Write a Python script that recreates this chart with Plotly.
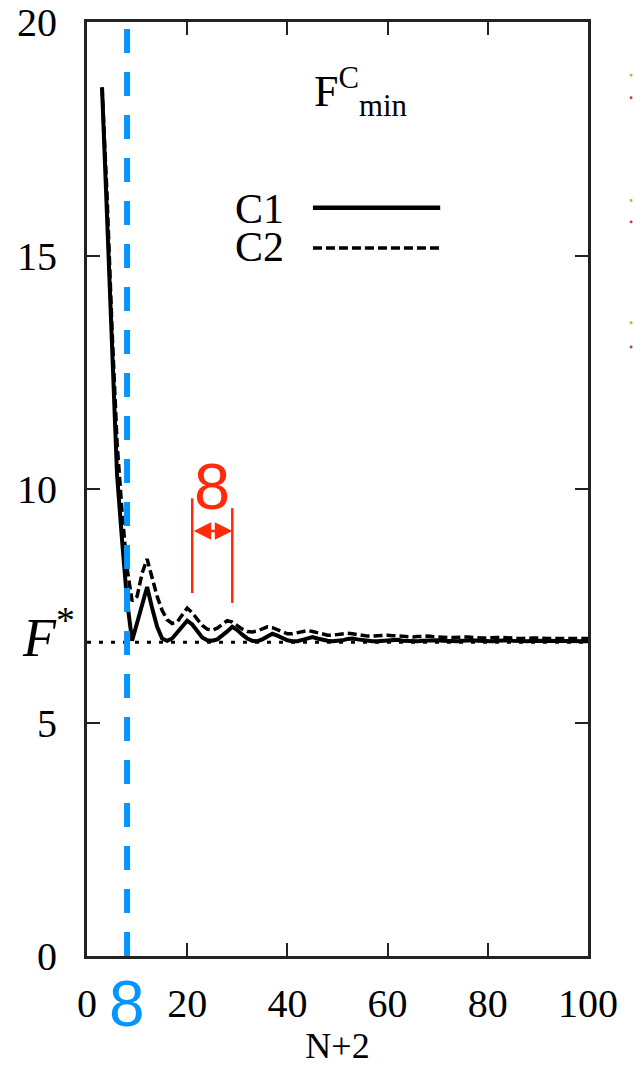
import plotly.graph_objects as go

# N+2 values and the minimum free energy for the two configurations
n_plus_2 = list(range(3, 101))

f_c1 = [
    18.6, 15.9, 12.7, 10.3, 8.9, 7.6, 6.75, 7.15, 7.55, 7.9,      # 3-12
    7.45, 7.05, 6.8, 6.75, 6.8, 6.92, 7.05, 7.18, 7.1, 6.95,      # 13-22
    6.82, 6.76, 6.75, 6.78, 6.86, 6.95, 7.05, 6.98, 6.88, 6.8,    # 23-32
    6.75, 6.74, 6.78, 6.85, 6.9, 6.86, 6.8, 6.76, 6.74, 6.74,     # 33-42
    6.77, 6.81, 6.83, 6.8, 6.77, 6.75, 6.74, 6.74, 6.76, 6.79,    # 43-52
    6.8, 6.78, 6.76, 6.75, 6.74, 6.74, 6.75, 6.77, 6.78, 6.77,    # 53-62
    6.75, 6.74, 6.74, 6.74, 6.75, 6.76, 6.77, 6.76, 6.75, 6.74,   # 63-72
    6.74, 6.74, 6.75, 6.76, 6.76, 6.75, 6.74, 6.74, 6.74, 6.75,   # 73-82
    6.76, 6.76, 6.75, 6.74, 6.74, 6.74, 6.75, 6.75, 6.75, 6.74,   # 83-92
    6.74, 6.74, 6.74, 6.75, 6.75, 6.74, 6.74, 6.74,               # 93-100
]

f_c2 = [
    18.6, 16.3, 13.4, 11.0, 9.5, 8.3, 7.6, 7.7, 8.2, 8.5,         # 3-12
    8.1, 7.7, 7.4, 7.2, 7.12, 7.15, 7.3, 7.45, 7.35, 7.2,         # 13-22
    7.08, 7.0, 6.98, 7.02, 7.1, 7.18, 7.15, 7.07, 7.0, 6.95,      # 23-32
    6.94, 6.96, 7.0, 7.05, 7.03, 6.98, 6.93, 6.9, 6.9, 6.92,      # 33-42
    6.95, 6.97, 6.95, 6.92, 6.89, 6.87, 6.87, 6.88, 6.9, 6.91,    # 43-52
    6.9, 6.88, 6.86, 6.85, 6.85, 6.86, 6.87, 6.87, 6.86, 6.85,    # 53-62
    6.84, 6.83, 6.83, 6.84, 6.85, 6.85, 6.84, 6.83, 6.82, 6.82,   # 63-72
    6.82, 6.83, 6.83, 6.83, 6.82, 6.81, 6.81, 6.81, 6.82, 6.82,   # 73-82
    6.82, 6.81, 6.8, 6.8, 6.8, 6.81, 6.81, 6.81, 6.8, 6.8,        # 83-92
    6.8, 6.8, 6.8, 6.8, 6.8, 6.8, 6.8, 6.8,                       # 93-100
]

F_STAR = 6.72          # asymptotic value
FIRST_MIN_N = 8        # marked first minimum
PERIOD_START = 21      # start of the marked oscillation period
PERIOD = 8             # oscillation period

x_ticks = [0, 20, 40, 60, 80, 100]
y_ticks = [0, 5, 10, 15, 20]

SERIF = "Liberation Serif"
SANS = "Liberation Sans"
BLUE = "#0496FF"
RED = "#FF2A0A"
AXIS = "#222222"

fig = go.Figure()

fig.add_trace(go.Scatter(
    x=[x_ticks[0], x_ticks[-1]], y=[F_STAR, F_STAR], mode="lines",
    line=dict(color="black", width=3, dash="4px,8px"), hoverinfo="skip",
))
fig.add_trace(go.Scatter(
    x=n_plus_2, y=f_c2, mode="lines", name="C2",
    line=dict(color="black", width=3.5, dash="9px,4px"),
))
fig.add_trace(go.Scatter(
    x=n_plus_2, y=f_c1, mode="lines", name="C1",
    line=dict(color="black", width=4),
))

# vertical marker at the first minimum
fig.add_shape(type="line", xref="x", yref="y",
              x0=FIRST_MIN_N, x1=FIRST_MIN_N, y0=y_ticks[0], y1=y_ticks[-1],
              line=dict(color=BLUE, width=6, dash="24px,19px"))
fig.add_annotation(x=FIRST_MIN_N, xref="x", y=-0.051, yref="paper",
                   text=str(FIRST_MIN_N), showarrow=False,
                   font=dict(family=SANS, size=64, color=BLUE),
                   xanchor="center", yanchor="middle")

# oscillation period bracket
p0, p1 = PERIOD_START, PERIOD_START + PERIOD
fig.add_shape(type="line", xref="x", yref="y", x0=p0, x1=p0, y0=7.77, y1=9.8,
              line=dict(color=RED, width=2.5))
fig.add_shape(type="line", xref="x", yref="y", x0=p1, x1=p1, y0=7.56, y1=9.59,
              line=dict(color=RED, width=2.5))
fig.add_annotation(x=p1, y=9.1, ax=p0, ay=9.1, xref="x", yref="y",
                   axref="x", ayref="y", text="", showarrow=True,
                   arrowhead=2, arrowside="end+start", arrowsize=1.4,
                   arrowwidth=2.5, arrowcolor=RED, standoff=0, startstandoff=0)
fig.add_annotation(x=(p0 + p1) / 2, y=10.05, xref="x", yref="y",
                   text=str(PERIOD), showarrow=False,
                   font=dict(family=SANS, size=65, color=RED),
                   xanchor="center", yanchor="middle")

# F* label
fig.add_annotation(x=-0.02, xref="paper", y=F_STAR, yref="y",
                   text="<i>F</i><sup>*</sup>", showarrow=False,
                   font=dict(family=SERIF, size=54, color="black"),
                   xanchor="right", yanchor="middle", yshift=9)

# legend
fig.add_annotation(x=0.449, y=0.925, xref="paper", yref="paper",
                   text="F<sup>C</sup><sub>min</sub>", showarrow=False,
                   font=dict(family=SERIF, size=44, color="black"),
                   xanchor="left", yanchor="middle")
fig.add_annotation(x=0.397, y=0.800, xref="paper", yref="paper",
                   text="C1", showarrow=False,
                   font=dict(family=SERIF, size=42, color="black"),
                   xanchor="right", yanchor="middle")
fig.add_annotation(x=0.397, y=0.759, xref="paper", yref="paper",
                   text="C2", showarrow=False,
                   font=dict(family=SERIF, size=42, color="black"),
                   xanchor="right", yanchor="middle")
fig.add_shape(type="line", xref="paper", yref="paper",
              x0=0.451, x1=0.705, y0=0.801, y1=0.801,
              line=dict(color="black", width=4.5))
fig.add_shape(type="line", xref="paper", yref="paper",
              x0=0.451, x1=0.705, y0=0.758, y1=0.758,
              line=dict(color="black", width=3.5, dash="9px,4px"))

# faint marks from a neighbouring panel at the right edge
for yy, col in [(0.943, "#d9a05a"), (0.919, "#a0503a"),
                (0.809, "#d9a05a"), (0.786, "#a0503a"),
                (0.678, "#d9a05a"), (0.652, "#a0503a")]:
    fig.add_shape(type="circle", xref="paper", yref="paper",
                  x0=1.083, x1=1.089, y0=yy - 0.0016, y1=yy + 0.0016,
                  line=dict(width=0), fillcolor=col)

axis_common = dict(
    showgrid=False, zeroline=False, showline=True, linecolor=AXIS,
    linewidth=3, mirror="ticks", ticks="inside", ticklen=13,
    tickwidth=2, tickcolor=AXIS, automargin=False,
    tickfont=dict(family=SERIF, size=40, color="black"),
)

fig.update_layout(
    width=635, height=1070,
    margin=dict(l=87, r=47, t=22, b=114),
    paper_bgcolor="white", plot_bgcolor="white",
    showlegend=False,
    xaxis=dict(range=[x_ticks[0], x_ticks[-1]], tickvals=x_ticks,
               ticklabelstandoff=10,
               title=dict(text="N+2", font=dict(family=SERIF, size=36,
                                                color="black"), standoff=2),
               **axis_common),
    yaxis=dict(range=[y_ticks[0], y_ticks[-1]], tickvals=y_ticks,
               ticklabelstandoff=19, **axis_common),
)

fig.write_html("out.html")
